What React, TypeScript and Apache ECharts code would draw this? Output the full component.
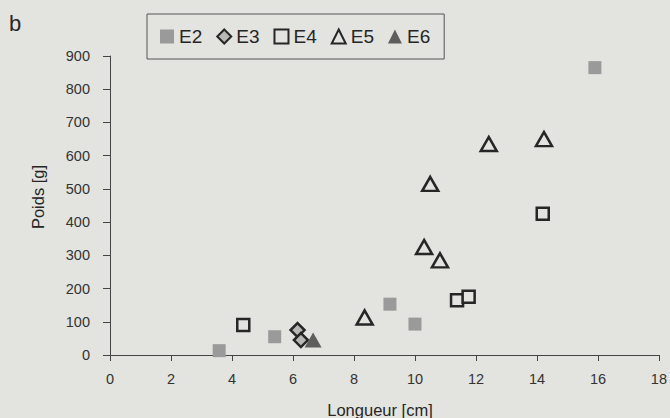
import React, { useEffect, useRef } from "react";
import * as echarts from "echarts";

const e2Len = [3.58, 5.4, 9.18, 10.0, 15.9];
const e2Wt = [13, 55, 153, 93, 865];
const e3Len = [6.15, 6.26];
const e3Wt = [75, 45];
const e4Len = [4.37, 11.38, 11.76, 14.19];
const e4Wt = [90, 165, 175, 425];
const e5Len = [8.35, 10.3, 10.82, 10.5, 12.42, 14.23];
const e5Wt = [113, 325, 285, 515, 635, 650];
const e6Len = [6.66];
const e6Wt = [45];

const BG = "#e3e4e0";
const INK = "#262626";

const pairs = (xs: number[], ys: number[]) => xs.map((x, i) => [x, ys[i]]);

export default function App() {
  const ref = useRef<HTMLDivElement>(null);
  useEffect(() => {
    document.body.style.margin = "0";
    const chart = echarts.init(ref.current!, null, { renderer: "svg" });
    const font = "'Liberation Sans', Arial, sans-serif";
    chart.setOption({
      animation: false,
      backgroundColor: BG,
      textStyle: { fontFamily: font },
      grid: { left: 110, right: 5, top: 56, bottom: 63, containLabel: false },
      legend: {
        left: 147,
        top: 14,
        padding: [13, 14, 13, 13],
        itemGap: 14,
        itemWidth: 14,
        itemHeight: 14,
        borderColor: "#555",
        borderWidth: 1,
        textStyle: { fontSize: 19, color: INK, fontFamily: font },
        data: ["E2", "E3", "E4", "E5", "E6"],
      },
      graphic: [
        { type: "text", left: 9, top: 12, style: { text: "b", fontSize: 22, fill: INK, fontFamily: font } },
        {
          type: "text",
          x: 38,
          y: 197,
          rotation: Math.PI / 2,
          style: { text: "Poids [g]", fontSize: 16.5, fill: INK, fontFamily: font, align: "center", verticalAlign: "middle" },
        },
        {
          type: "text",
          x: 380,
          y: 410,
          style: { text: "Longueur [cm]", fontSize: 16.5, fill: INK, fontFamily: font, align: "center", verticalAlign: "middle" },
        },
      ],
      xAxis: {
        type: "value",
        min: 0,
        max: 18,
        interval: 2,
        splitLine: { show: false },
        axisLine: { show: true, onZero: false, lineStyle: { color: "#444", width: 1 } },
        axisTick: { show: true, length: 6, lineStyle: { color: "#444" } },
        axisLabel: { fontSize: 14.5, color: "#333", margin: 16, fontFamily: font },
      },
      yAxis: {
        type: "value",
        min: 0,
        max: 900,
        interval: 100,
        splitLine: { show: false },
        axisLine: { show: true, onZero: false, lineStyle: { color: "#444", width: 1 } },
        axisTick: { show: true, length: 7, lineStyle: { color: "#444" } },
        axisLabel: { fontSize: 14.5, color: "#333", margin: 20, fontFamily: font },
      },
      series: [
        {
          name: "E2",
          type: "scatter",
          symbol: "rect",
          symbolSize: 13,
          data: pairs(e2Len, e2Wt),
          itemStyle: { color: "#9a9a9a", opacity: 1 },
        },
        {
          name: "E3",
          type: "scatter",
          symbol: "diamond",
          symbolSize: 14,
          data: pairs(e3Len, e3Wt),
          itemStyle: { color: "#b8b9b5", borderColor: INK, borderWidth: 2.5, opacity: 1 },
        },
        {
          name: "E4",
          type: "scatter",
          symbol: "rect",
          symbolSize: 12,
          data: pairs(e4Len, e4Wt),
          itemStyle: { color: BG, borderColor: INK, borderWidth: 2.5, opacity: 1 },
        },
        {
          name: "E5",
          type: "scatter",
          symbol: "triangle",
          symbolSize: [16, 14],
          data: pairs(e5Len, e5Wt),
          itemStyle: { color: BG, borderColor: INK, borderWidth: 2.5, opacity: 1 },
        },
        {
          name: "E6",
          type: "scatter",
          symbol: "triangle",
          symbolSize: [17, 15],
          data: pairs(e6Len, e6Wt),
          itemStyle: { color: "#5e5e5e", opacity: 1 },
        },
      ],
    });
    return () => chart.dispose();
  }, []);
  return <div ref={ref} style={{ position: "absolute", left: 0, top: 0, width: 670, height: 418 }} />;
}
